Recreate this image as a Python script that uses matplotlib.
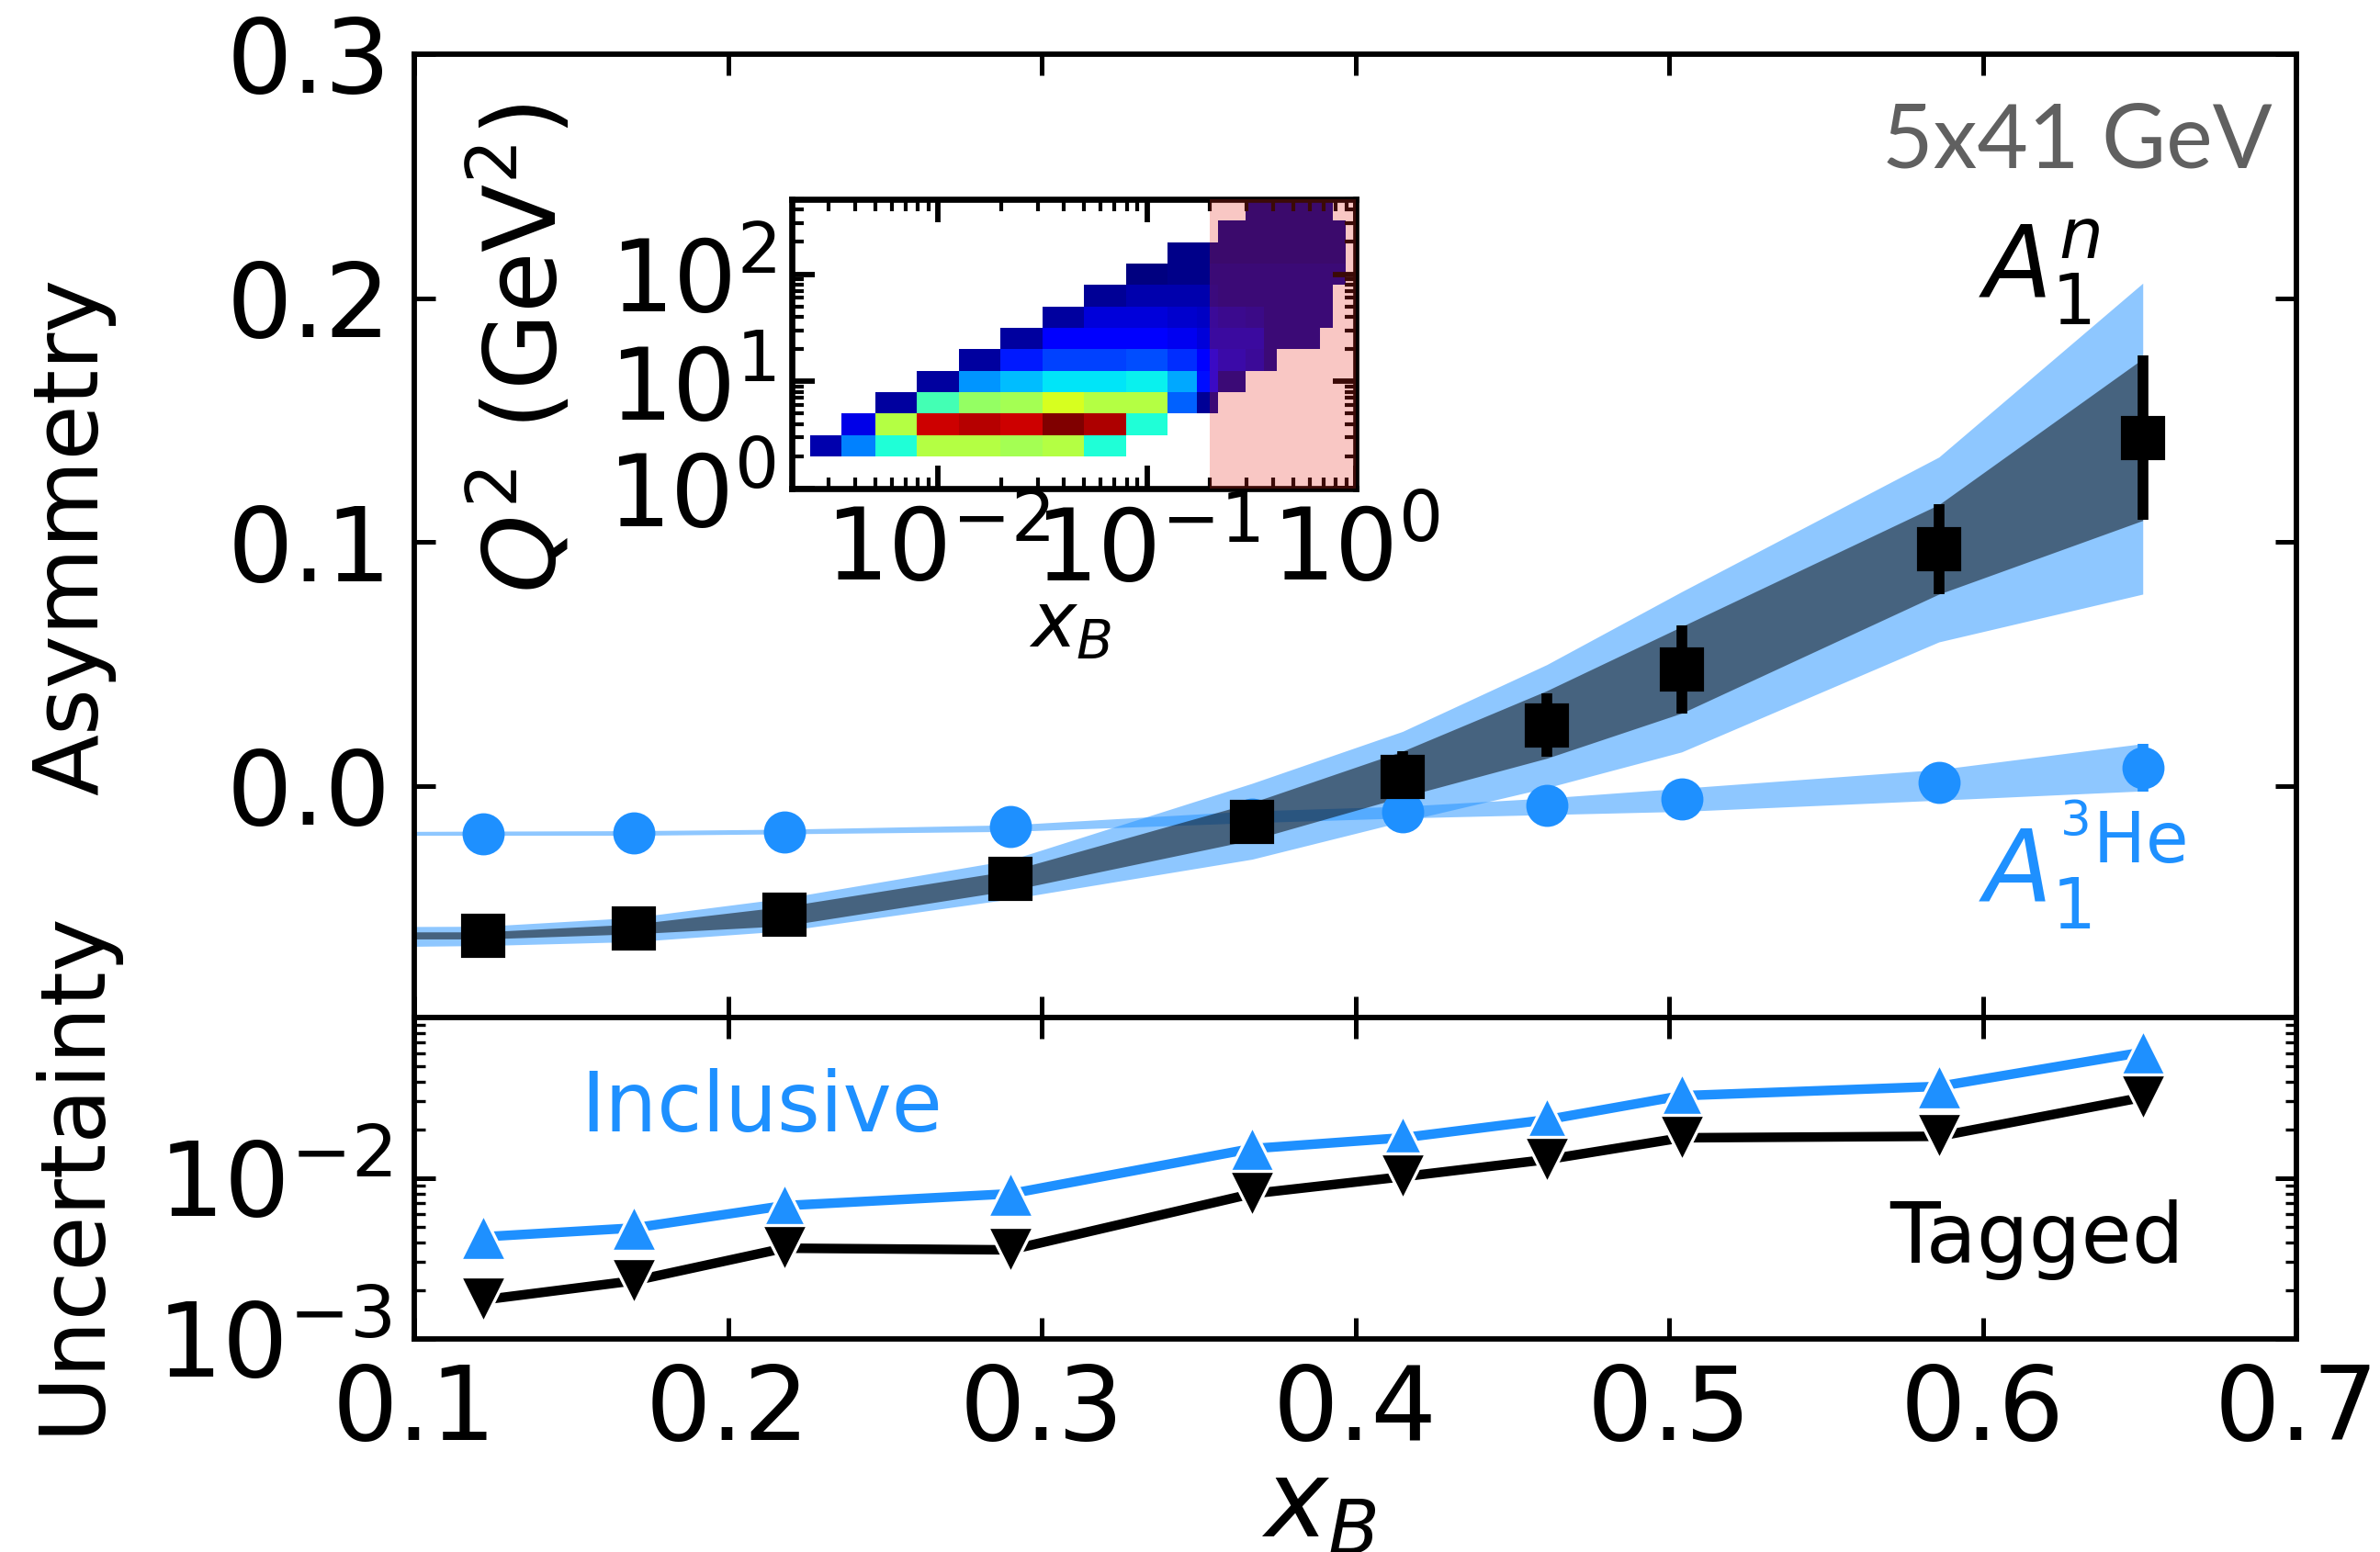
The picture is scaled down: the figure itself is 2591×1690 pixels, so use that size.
import numpy as np
import matplotlib
matplotlib.use("Agg")
import matplotlib.pyplot as plt
from matplotlib.ticker import FixedLocator, LogLocator, NullFormatter

plt.rcParams['font.family'] = ['DejaVu Sans']
plt.rcParams['mathtext.fontset'] = 'dejavusans'

# === Datos ===
xb = [0.122, 0.170, 0.218, 0.290, 0.367, 0.415, 0.461, 0.504, 0.586, 0.651]

# A1 neutron (tagged)
a1n = [-0.0614, -0.0585, -0.0528, -0.0381, -0.0148, 0.0037, 0.0248, 0.0478, 0.0969, 0.1427]
a1n_err = [0.002, 0.002, 0.003, 0.004, 0.006, 0.0105, 0.013, 0.018, 0.0185, 0.0337]

# A1 3He
a1he = [-0.0197, -0.0195, -0.0188, -0.0166, -0.0135, -0.0107, -0.0080, -0.0053, 0.0013, 0.0075]
a1he_err = [0.001, 0.001, 0.001, 0.0015, 0.002, 0.003, 0.004, 0.005, 0.007, 0.0097]

# bandas de modelos
band_x = [0.1, 0.122, 0.170, 0.218, 0.290, 0.367, 0.415, 0.461, 0.504, 0.586, 0.651]
n_in_hi = [-0.0599, -0.0599, -0.0567, -0.0495, -0.0348, -0.0069, 0.0142, 0.0390, 0.0653, 0.1153, 0.1751]
n_in_lo = [-0.0628, -0.0628, -0.0607, -0.0574, -0.0429, -0.0222, -0.0046, 0.0113, 0.0298, 0.0786, 0.1088]
n_out_hi = [-0.0577, -0.0576, -0.0540, -0.0461, -0.0304, 0.0010, 0.0223, 0.0497, 0.0796, 0.1348, 0.2061]
n_out_lo = [-0.0658, -0.0655, -0.0639, -0.0595, -0.0464, -0.0301, -0.0147, -0.0008, 0.0139, 0.0590, 0.0786]
he_hi = [-0.0187, -0.0186, -0.0184, -0.0178, -0.0160, -0.0103, -0.0084, -0.0050, -0.0010, 0.0067, 0.0173]
he_lo = [-0.0203, -0.0203, -0.0203, -0.0197, -0.0187, -0.0151, -0.0132, -0.0118, -0.0105, -0.0059, -0.0021]

# incertezas
unc_incl = [0.00432, 0.00490, 0.00675, 0.00800, 0.01528, 0.01784, 0.02312, 0.03261, 0.03726, 0.0608]
unc_tag = [0.00175, 0.00230, 0.00367, 0.00358, 0.00800, 0.01021, 0.01306, 0.01784, 0.01823, 0.03186]

# cobertura cinematica (log10 de los bordes) y ocupacion normalizada
hx_edges = [-2.61, -2.46, -2.30, -2.10, -1.90, -1.70, -1.50, -1.30, -1.10, -0.90, -0.76,
            -0.70, -0.66, -0.53, -0.44, -0.38, -0.17, -0.11, -0.05]
hy_edges = [0.3, 0.5, 0.7, 0.9, 1.1, 1.3, 1.5, 1.7, 1.9, 2.1, 2.3, 2.5, 2.7]
n = np.nan
hist = [
    [0.04, 0.25, 0.39, 0.57, 0.57, 0.55, 0.57, 0.39, n, n, n, n, n, n, n, n, n, n],
    [n, 0.09, 0.57, 0.93, 0.95, 0.93, 1.0, 0.96, 0.39, n, n, n, n, n, n, n, n, n],
    [n, n, 0.03, 0.43, 0.53, 0.55, 0.61, 0.57, 0.57, 0.22, 0.02, 0.02, n, n, n, n, n, n],
    [n, n, n, 0.03, 0.27, 0.31, 0.35, 0.35, 0.36, 0.29, 0.14, 0.12, 0.02, n, n, n, n, n],
    [n, n, n, n, 0.03, 0.15, 0.19, 0.19, 0.20, 0.17, 0.12, 0.12, 0.08, 0.06, 0.02, n, n, n],
    [n, n, n, n, n, 0.03, 0.12, 0.12, 0.11, 0.10, 0.08, 0.07, 0.07, 0.07, 0.02, 0.02, n, n],
    [n, n, n, n, n, n, 0.03, 0.08, 0.08, 0.07, 0.06, 0.06, 0.05, 0.04, 0.02, 0.02, 0.02, n],
    [n, n, n, n, n, n, n, 0.02, 0.04, 0.04, 0.04, 0.03, 0.02, 0.02, 0.02, 0.02, 0.02, n],
    [n, n, n, n, n, n, n, n, 0.0, 0.01, 0.01, 0.02, 0.02, 0.02, 0.02, 0.02, 0.02, 0.02],
    [n, n, n, n, n, n, n, n, n, 0.01, 0.01, 0.01, 0.01, 0.01, 0.01, 0.01, 0.01, 0.01],
    [n, n, n, n, n, n, n, n, n, n, n, n, 0.01, 0.01, 0.01, 0.01, 0.01, 0.01],
    [n, n, n, n, n, n, n, n, n, n, n, n, n, 0.01, 0.01, 0.01, 0.01, n],
]

azul = 'dodgerblue'

fig = plt.figure(figsize=(2591 / 300, 1690 / 300), dpi=300)
ax1 = fig.add_axes([0.1741, 0.3444, 0.7908, 0.6207])
ax2 = fig.add_axes([0.1741, 0.1373, 0.7908, 0.2071], sharex=ax1)

# === Panel superior: asimetrias ===
ax1.fill_between(band_x, he_lo, he_hi, color=azul, alpha=0.5, lw=0)
ax1.fill_between(band_x, n_out_lo, n_out_hi, color=azul, alpha=0.5, lw=0)
ax1.fill_between(band_x, n_in_lo, n_in_hi, color='black', alpha=0.5, lw=0)
ax1.errorbar(xb, a1he, yerr=a1he_err, fmt='o', color=azul, ms=10, elinewidth=2.8, capsize=0)
ax1.errorbar(xb, a1n, yerr=a1n_err, fmt='s', color='black', ms=10.5, elinewidth=2.8, capsize=0)

ax1.set_xlim(0.1, 0.7)
ax1.set_ylim(-0.095, 0.3)
ax1.yaxis.set_major_locator(FixedLocator([0.0, 0.1, 0.2, 0.3]))
ax1.tick_params(labelbottom=False)

ax1.text(0.5987, 0.2003, r'$A_1^n$', fontsize=26, color='black', ha='left', va='baseline')
ax1.text(0.5987, -0.0478, r'$A_1^{^3\mathrm{He}}$', fontsize=26, color=azul, ha='left', va='baseline')
fig.text(0.9548, 0.8923, '5x41 GeV', fontsize=23, color='#606060', family='Lato',
         ha='right', va='baseline')

# === Panel inferior: incertezas ===
ax2.plot(xb, unc_incl, '-^', color=azul, lw=2.5, ms=12, mec='white', mew=0.8)
ax2.plot(xb, unc_tag, '-v', color='black', lw=2.5, ms=12, mec='white', mew=0.8)
ax2.set_yscale('log')
ax2.set_ylim(1e-3, 1e-1)
ax2.yaxis.set_major_locator(FixedLocator([1e-3, 1e-2]))
ax2.yaxis.set_minor_locator(LogLocator(base=10, subs=range(2, 10), numticks=20))
ax2.yaxis.set_minor_formatter(NullFormatter())
ax2.set_xticks([0.1, 0.2, 0.3, 0.4, 0.5, 0.6, 0.7])
ax2.text(0.153, 0.01954, 'Inclusive', fontsize=21.5, color=azul, ha='left', va='baseline')
ax2.text(0.5703, 0.00298, 'Tagged', fontsize=21.5, color='black', ha='left', va='baseline')

for ax in (ax1, ax2):
    ax.tick_params(which='both', direction='in', top=True, right=True, labelsize=27, pad=6)
    ax.tick_params(which='major', length=5.6, width=1.2)
    ax.tick_params(which='minor', length=2.8, width=0.8)
    for s in ax.spines.values():
        s.set_linewidth(1.4)

fig.text(0.0305, 0.654, 'Asymmetry', fontsize=23.5, rotation=90, ha='center', va='center')
fig.text(0.0305, 0.245, 'Uncertainty', fontsize=23.5, rotation=90, ha='center', va='center')
fig.text(0.554, 0.029, r'$x_B$', fontsize=28, ha='center', va='center')

# === Inset: cobertura en (x, Q2) ===
axin = fig.add_axes([0.3327, 0.6852, 0.2370, 0.1864])
xe = 10 ** np.array(hx_edges)
ye = 10 ** np.array(hy_edges)
axin.pcolormesh(xe, ye, np.ma.masked_invalid(np.array(hist)), cmap='jet', vmin=0, vmax=1)
axin.axvspan(0.2, 1.0, color='#e8281c', alpha=0.26, lw=0, zorder=3)
axin.set_xscale('log')
axin.set_yscale('log')
axin.set_xlim(2e-3, 1.0)
axin.set_ylim(1, 500)
axin.tick_params(which='both', direction='in', top=True, right=True, labelsize=26, pad=4)
axin.tick_params(which='major', length=6, width=1.4)
axin.tick_params(which='minor', length=3, width=1.0)
for s in axin.spines.values():
    s.set_linewidth(1.6)
fig.text(0.22, 0.7757, r'$Q^2$ (GeV$^2$)', fontsize=26, rotation=90, ha='center', va='center')
fig.text(0.4496, 0.597, r'$x_B$', fontsize=20, ha='center', va='center')

fig.savefig('out.png', dpi=300)
plt.close(fig)
